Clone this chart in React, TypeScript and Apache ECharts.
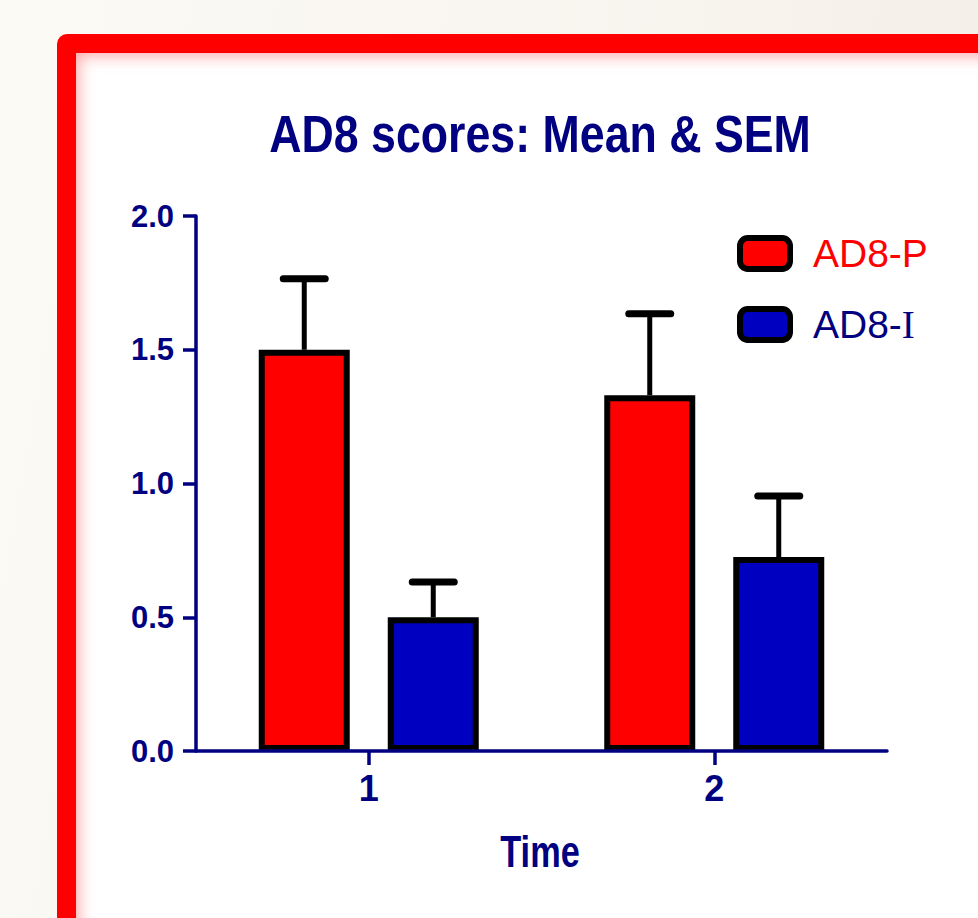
import React, { useEffect, useRef } from "react";
import * as echarts from "echarts";

const categories = ["1", "2"];
const meanP = [1.5, 1.33];
const semP = [0.265, 0.305];
const meanI = [0.5, 0.725];
const semI = [0.132, 0.228];
const yTicks = [0, 0.5, 1.0, 1.5, 2.0];

const NAVY = "#000080";
const FONT = "'Liberation Sans', Arial, Helvetica, sans-serif";
const BAR_W = 91;
const GAP = 0.4176;

function errorSeries(name: string, means: number[], sems: number[], dir: number) {
  const off = (dir * BAR_W * (1 + GAP)) / 2;
  return {
    type: "custom",
    name,
    z: 3,
    data: means.map((m, i) => [i, m, sems[i]]),
    renderItem: (params: any, api: any) => {
      const ci = api.value(0);
      const m = api.value(1);
      const s = api.value(2);
      const base = api.coord([ci, m]);
      const top = api.coord([ci, m + s]);
      const x = base[0] + off;
      return {
        type: "group",
        children: [
          {
            type: "line",
            shape: { x1: x, y1: base[1], x2: x, y2: top[1] },
            style: { stroke: "#000", lineWidth: 5 },
          },
          {
            type: "line",
            shape: { x1: x - 21, y1: top[1], x2: x + 21, y2: top[1] },
            style: { stroke: "#000", lineWidth: 7, lineCap: "round" },
          },
        ],
      };
    },
  };
}

export default function App() {
  const ref = useRef<HTMLDivElement>(null);
  useEffect(() => {
    document.body.style.margin = "0";
    const chart = echarts.init(ref.current!, null, { renderer: "svg" });
    chart.setOption({
      animation: false,
      textStyle: { fontFamily: FONT },
      grid: { left: 196, top: 216, width: 691, height: 535, containLabel: false },
      graphic: [
        {
          type: "text",
          x: 540,
          y: 134,
          scaleX: 0.86,
          z: 20,
          style: {
            text: "AD8 scores: Mean & SEM",
            fontSize: 52,
            fontWeight: "bold",
            fontFamily: FONT,
            fill: NAVY,
            align: "center",
            verticalAlign: "middle",
            textAlign: "center",
            textVerticalAlign: "middle",
          },
        },
        {
          type: "text",
          x: 540,
          y: 851,
          scaleX: 0.78,
          z: 20,
          style: {
            text: "Time",
            fontSize: 44,
            fontWeight: "bold",
            fontFamily: FONT,
            fill: NAVY,
            align: "center",
            verticalAlign: "middle",
            textAlign: "center",
            textVerticalAlign: "middle",
          },
        },
      ],
      legend: {
        orient: "vertical",
        left: 737,
        top: 234,
        padding: 0,
        itemWidth: 50,
        itemHeight: 31,
        itemGap: 32,
        icon: "roundRect",
        itemStyle: { borderColor: "#000", borderWidth: 6 },
        formatter: (name: string) =>
          name === "AD8-I" ? "{i|AD8-}{s|I}" : "{p|AD8-P}",
        textStyle: {
          fontSize: 39,
          padding: [0, 0, 0, 18],
          rich: {
            p: { fontSize: 39, color: "#ff0000", fontFamily: FONT },
            i: { fontSize: 39, color: NAVY, fontFamily: FONT },
            s: { fontSize: 39, color: NAVY, fontFamily: "'Liberation Serif', 'DejaVu Serif', serif" },
          },
        },
        data: ["AD8-P", "AD8-I"],
      },
      xAxis: {
        type: "category",
        data: categories,
        z: 10,
        axisLine: { show: true, lineStyle: { color: NAVY, width: 3.5 } },
        axisTick: { show: true, alignWithLabel: true, length: 14, lineStyle: { color: NAVY, width: 3.5 } },
        axisLabel: { fontSize: 36, fontWeight: "bold", color: NAVY, margin: 19, fontFamily: FONT },
        splitLine: { show: false },
      },
      yAxis: {
        type: "value",
        min: yTicks[0],
        max: yTicks[yTicks.length - 1],
        interval: 0.5,
        z: 10,
        axisLine: { show: true, lineStyle: { color: NAVY, width: 3.5 } },
        axisTick: { show: true, length: 13, lineStyle: { color: NAVY, width: 3.5 } },
        axisLabel: {
          fontSize: 31,
          fontWeight: "bold",
          color: NAVY,
          margin: 22,
          fontFamily: FONT,
          formatter: (v: number) => v.toFixed(1),
        },
        splitLine: { show: false },
      },
      series: [
        errorSeries("errP", meanP, semP, -1),
        errorSeries("errI", meanI, semI, 1),
        {
          type: "bar",
          name: "AD8-P",
          z: 5,
          data: meanP,
          barWidth: BAR_W,
          barGap: GAP * 100 + "%",
          itemStyle: { color: "#ff0000", borderColor: "#000", borderWidth: 6 },
        },
        {
          type: "bar",
          name: "AD8-I",
          z: 5,
          data: meanI,
          barWidth: BAR_W,
          barGap: GAP * 100 + "%",
          itemStyle: { color: "#0000c0", borderColor: "#000", borderWidth: 6 },
        },
      ],
    });
    return () => chart.dispose();
  }, []);

  return (
    <div
      style={{
        position: "fixed",
        left: 0,
        top: 0,
        width: 978,
        height: 918,
        overflow: "hidden",
        background: "linear-gradient(100deg, #fbfaf5 0%, #f8f4ee 60%, #f3ece6 100%)",
      }}
    >
      <div
        style={{
          position: "absolute",
          left: 57,
          top: 34,
          width: 1100,
          height: 1000,
          boxSizing: "border-box",
          border: "19px solid #ff0000",
          borderRadius: 10,
          background: "#ffffff",
          boxShadow: "inset 0 0 16px 2px rgba(255,80,80,0.55)",
        }}
      />
      <div ref={ref} style={{ position: "absolute", left: 0, top: 0, width: 978, height: 918 }} />
    </div>
  );
}
